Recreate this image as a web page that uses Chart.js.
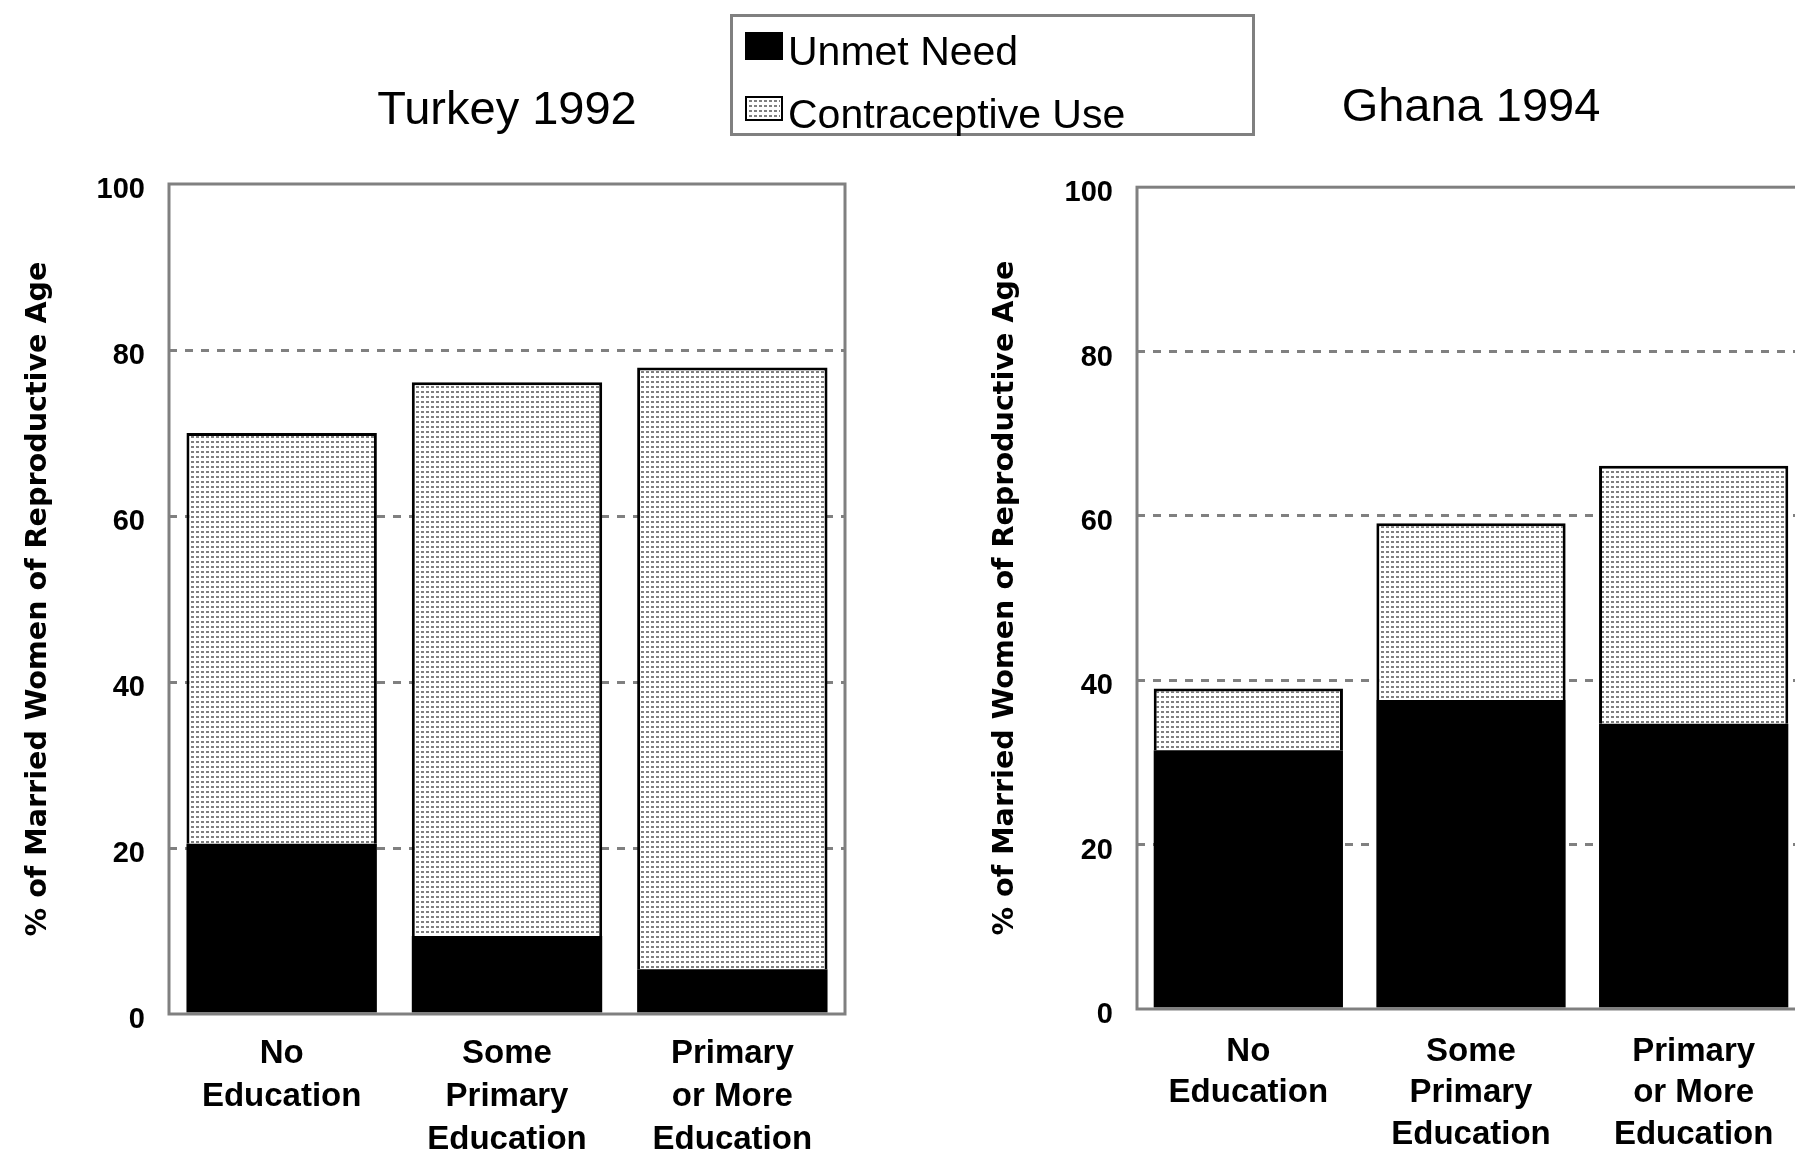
<!DOCTYPE html>
<html>
<head>
<meta charset="utf-8">
<title>Unmet Need and Contraceptive Use by Education</title>
<script src="https://cdn.jsdelivr.net/npm/chart.js@4.4.1/dist/chart.umd.min.js"></script>
<style>
  html, body { margin: 0; padding: 0; background: #fff; width: 1795px; height: 1155px; overflow: hidden; position: relative; }
  canvas { position: absolute; top: 0; }
  #turkey { left: 0; }
  #ghana { left: 950px; }
  #legend {
    position: absolute; left: 730px; top: 14px; width: 525px; height: 122px;
    box-sizing: border-box; border: 3px solid #808080; background: #fff; z-index: 2;
    font-family: 'Liberation Sans', Arial, sans-serif; color: #000;
  }
  #legend .swatch { position: absolute; left: 12px; box-sizing: border-box; }
  #legend .label { position: absolute; left: 55px; font-size: 41px; line-height: 41px; white-space: nowrap; }
</style>
</head>
<body>
<canvas id="turkey" width="870" height="1155"></canvas>
<canvas id="ghana" width="900" height="1155"></canvas>
<div id="legend"></div>
<script>
// ---- data ----
const educationLevels = [
  ['No', 'Education'],
  ['Some', 'Primary', 'Education'],
  ['Primary', 'or More', 'Education']
];
const seriesNames = ['Unmet Need', 'Contraceptive Use'];
const percentTicks = [0, 20, 40, 60, 80, 100];
const yAxisTitle = '% of Married Women of Reproductive Age';

const turkeyTitle = 'Turkey 1992';
const turkeyUnmetNeed = [20.5, 9.4, 5.4];
const turkeyContraceptiveUse = [49.5, 66.7, 72.5];

const ghanaTitle = 'Ghana 1994';
const ghanaUnmetNeed = [31.5, 37.6, 34.7];
const ghanaContraceptiveUse = [7.5, 21.5, 31.4];

// ---- styling helpers ----
const FONT = "'Liberation Sans', Arial, sans-serif";
const GRAY = '#808080';

// small dotted tile used for the contraceptive-use fill
const dotTile = (() => {
  const t = document.createElement('canvas');
  t.width = 5; t.height = 5;
  const c = t.getContext('2d');
  c.fillStyle = '#fff'; c.fillRect(0, 0, 5, 5);
  c.fillStyle = GRAY; c.fillRect(1, 1, 3, 2);
  return t;
})();

// solid gray frame around the plotting area
const plotFrame = {
  id: 'plotFrame',
  afterDatasetsDraw(chart, args, opts) {
    const { ctx, chartArea: a } = chart;
    ctx.save();
    ctx.strokeStyle = opts.color;
    ctx.lineWidth = opts.width;
    ctx.strokeRect(a.left, a.top, a.right - a.left, a.bottom - a.top);
    ctx.restore();
  }
};

function panel(canvas, p) {
  const ctx = canvas.getContext('2d');
  const dots = ctx.createPattern(dotTile, 'repeat');
  return new Chart(ctx, {
    type: 'bar',
    data: {
      labels: educationLevels,
      datasets: [
        { label: seriesNames[0], data: p.unmet, backgroundColor: '#000', borderWidth: 0 },
        { label: seriesNames[1], data: p.contra, backgroundColor: dots, borderColor: '#000', borderWidth: 3 }
      ]
    },
    options: {
      responsive: false,
      animation: false,
      devicePixelRatio: 1,
      layout: { padding: { top: 0, left: 0, right: p.padRight, bottom: 0 } },
      datasets: { bar: { categoryPercentage: 1, barPercentage: p.barPct } },
      scales: {
        x: {
          stacked: true,
          grid: { display: false, drawTicks: false },
          border: { display: false },
          ticks: {
            color: '#000', padding: p.xPad, maxRotation: 0, autoSkip: false,
            font: { family: FONT, size: 33, weight: 'bold', lineHeight: p.xLine }
          },
          afterFit(s) { s.height = p.xHeight; }
        },
        y: {
          stacked: true, min: 0, max: 100,
          ticks: {
            stepSize: 20, color: '#000', padding: 24, labelOffset: 6,
            font: { family: FONT, size: 29, weight: 'bold' }
          },
          afterBuildTicks(s) { s.ticks = percentTicks.map(v => ({ value: v })); },
          grid: {
            drawTicks: false, lineWidth: 3,
            color: c => (c.tick && (c.tick.value === 0 || c.tick.value === 100)) ? 'rgba(0,0,0,0)' : GRAY
          },
          border: { display: false, dash: [8, 8] },
          title: {
            display: true, text: yAxisTitle, color: '#000',
            padding: { top: p.yTitlePad, bottom: 0 },
            font: { family: "'DejaVu Sans', sans-serif", size: 28.6, weight: 'bold', lineHeight: 1.2 }
          },
          afterFit(s) { s.width = p.yWidth; }
        }
      },
      plugins: {
        legend: { display: false },
        tooltip: { enabled: false },
        title: {
          display: true, text: p.title, fullSize: false, color: '#000',
          font: { family: FONT, size: 47, weight: 'normal', lineHeight: 1.2 },
          padding: { top: p.tPadTop, bottom: p.tPadBottom }
        },
        plotFrame: { color: GRAY, width: 3 }
      }
    },
    plugins: [plotFrame]
  });
}

const turkeyChart = panel(document.getElementById('turkey'), {
  title: turkeyTitle, unmet: turkeyUnmetNeed, contra: turkeyContraceptiveUse,
  padRight: 25, barPct: 0.845, xPad: 18.5, xLine: 1.3, xHeight: 141,
  yTitlePad: 21, yWidth: 169, tPadTop: 83, tPadBottom: 44.6
});

panel(document.getElementById('ghana'), {
  title: ghanaTitle, unmet: ghanaUnmetNeed, contra: ghanaContraceptiveUse,
  padRight: 45, barPct: 0.85, xPad: 21.5, xLine: 1.27, xHeight: 146,
  yTitlePad: 38, yWidth: 187, tPadTop: 80, tPadBottom: 50.8
});

// shared legend, built from the datasets of the first panel
(function buildLegend(chart) {
  const box = document.getElementById('legend');
  const rows = [
    { swTop: 15, swH: 28, txtTop: 14 },
    { swTop: 79, swH: 25, txtTop: 77 }
  ];
  chart.data.datasets.forEach((ds, i) => {
    const sw = document.createElement('div');
    sw.className = 'swatch';
    sw.style.top = rows[i].swTop + 'px';
    sw.style.width = '38px';
    sw.style.height = rows[i].swH + 'px';
    if (i === 0) {
      sw.style.background = ds.backgroundColor;
    } else {
      sw.style.border = '2px solid #000';
      sw.style.padding = '1px';
      sw.style.backgroundImage = 'url(' + dotTile.toDataURL() + ')';
      sw.style.backgroundClip = 'content-box';
      sw.style.backgroundOrigin = 'content-box';
    }
    const tx = document.createElement('div');
    tx.className = 'label';
    tx.style.top = rows[i].txtTop + 'px';
    tx.textContent = ds.label;
    box.appendChild(sw);
    box.appendChild(tx);
  });
})(turkeyChart);
</script>
</body>
</html>
